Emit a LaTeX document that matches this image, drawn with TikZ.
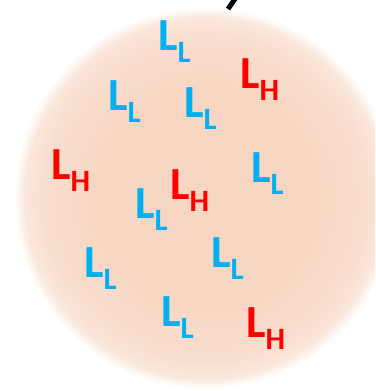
\documentclass[tikz,border=0pt]{standalone}
\usepackage{fontspec}
\setmainfont{Carlito}
\usepackage{xcolor}
\usepackage{tikz}

\definecolor{lowblue}{RGB}{0,176,240}
\definecolor{highred}{RGB}{255,0,0}
\definecolor{cellcore}{RGB}{246,214,194}
\definecolor{cellmid}{RGB}{248,222,206}
\definecolor{celledge}{RGB}{250,230,218}

\pgfdeclareradialshading{cellglow}{\pgfpoint{0bp}{0bp}}{%
  color(0bp)=(cellcore); color(14bp)=(cellcore); color(21bp)=(cellmid);
  color(23.5bp)=(celledge); color(25bp)=(white); color(50bp)=(white)}

\newcommand{\sublab}[1]{\raisebox{-12pt}{\fontsize{31}{31}\selectfont #1}}

\begin{document}
\begin{tikzpicture}[x=1pt, y=-1pt,
    low/.style={text=lowblue, anchor=base west, inner sep=0pt, font=\bfseries\fontsize{46}{46}\selectfont},
    high/.style={low, text=highred}
]
\useasboundingbox (0,0) rectangle (375,391);
\clip (0,0) rectangle (375,391);

% cell body
\coordinate (centre) at (205,198);
\shade[shading=cellglow] (centre) circle (191);

% tether at the top
\coordinate (tetherin) at (228,9);
\coordinate (tetherout) at (237,-4);
\draw[line width=5pt] (tetherin) -- (tetherout);

% ligands
\node[low] (ll1) at (158,50) {L\sublab{L}};
\node[high] (lh1) at (240,88) {L\sublab{H}};
\node[low] (ll2) at (108,110) {L\sublab{L}};
\node[low] (ll3) at (184,117) {L\sublab{L}};
\node[high] (lh2) at (51,179) {L\sublab{H}};
\node[low] (ll4) at (251,182) {L\sublab{L}};
\node[high] (lh3) at (170,199) {L\sublab{H}};
\node[low] (ll5) at (135,218) {L\sublab{L}};
\node[low] (ll6) at (211,267) {L\sublab{L}};
\node[low] (ll7) at (84,277) {L\sublab{L}};
\node[low] (ll8) at (161,326) {L\sublab{L}};
\node[high] (lh4) at (246,337) {L\sublab{H}};
\end{tikzpicture}
\end{document}
